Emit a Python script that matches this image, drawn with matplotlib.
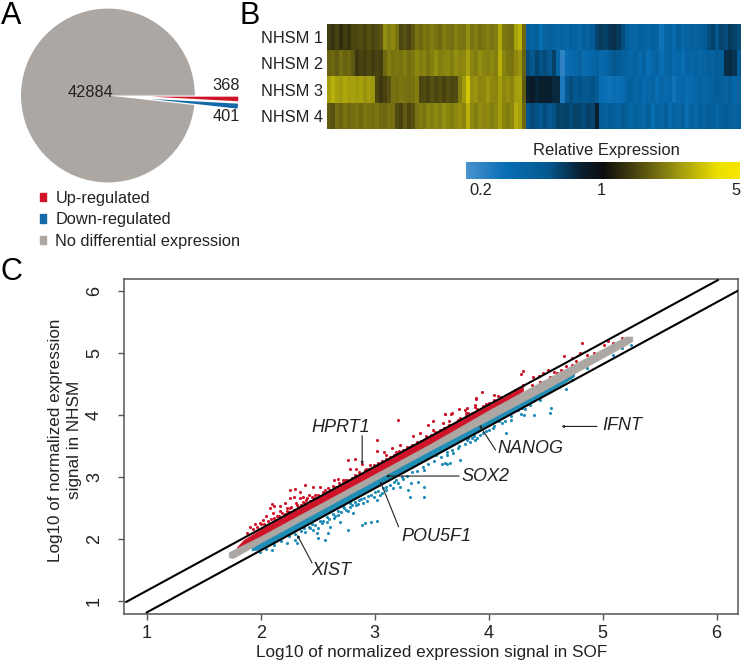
import numpy as np
import matplotlib
matplotlib.use('Agg')
import matplotlib.pyplot as plt
from matplotlib.colors import LinearSegmentedColormap
from matplotlib.patches import Patch

plt.rcParams['font.family'] = ['Liberation Sans', 'DejaVu Sans']

W, H = 741, 665
RED = '#cf1429'
BLUE = '#1569a8'
GRAY = '#aca7a3'
DOT_BLUE = '#1f8db5'
FRAME = '#555555'
TXT = '#222222'

# panel A
pie_counts = [368, 401, 42884]
pie_colors = [RED, BLUE, GRAY]
pie_explode = [0.5, 0.5, 0]
legend_labels = ['Up-regulated', 'Down-regulated', 'No differential expression']

# panel B, values on the colour bar scale (-1 light blue, 0 black, 1 yellow)
row_labels = ['NHSM 1', 'NHSM 2', 'NHSM 3', 'NHSM 4']
heat_up = [
    [.25,.2,.28,.18,.25,.2,.3,.3,.33,.28,.35,.3,.32,.36,.62,.55,.6,.5,.3,.35,.28,.38,.5,.45,.52,.48,.55,.5,.46,.55,.5,.48,.56,.52,.5,.62,.5,.55,.48,.52,.56,.5,.55,.75,.52,.5,.48,.72,.8,.45],
    [.42,.45,.4,.48,.42,.45,.38,.22,.28,.25,.3,.25,.28,.26,.45,.55,.5,.52,.5,.55,.48,.52,.6,.55,.58,.5,.56,.62,.55,.58,.6,.55,.62,.58,.6,.72,.58,.55,.62,.58,.56,.6,.55,.8,.58,.52,.5,.6,.65,.42],
    [.7,.8,.72,.68,.75,.7,.72,.68,.72,.65,.7,.66,.3,.22,.28,.35,.5,.48,.52,.5,.48,.5,.55,.3,.32,.28,.35,.3,.33,.28,.34,.3,.32,.55,.68,.9,.62,.65,.58,.6,.66,.6,.58,.7,.6,.62,.58,.7,.72,.4],
    [.4,.35,.48,.42,.5,.45,.48,.5,.45,.52,.5,.48,.52,.46,.45,.5,.48,.32,.28,.4,.3,.35,.5,.55,.5,.58,.55,.6,.55,.62,.58,.55,.6,.62,.58,.8,.6,.55,.62,.58,.6,.55,.6,.7,.58,.55,.6,.78,.72,.45],
]
heat_down = [
    [-.5,-.55,-.5,-.7,-.55,-.5,-.55,-.6,-.55,-.6,-.5,-.55,-.6,-.5,-.55,-.45,-.32,-.28,-.3,-.25,-.22,-.28,-.35,-.5,-.55,-.6,-.5,-.55,-.6,-.5,-.55,-.75,-.6,-.55,-.65,-.5,-.6,-.55,-.5,-.55,-.5,-.45,-.35,-.3,-.4,-.32,-.35,-.28,-.3,-.35],
    [-.35,-.4,-.32,-.38,-.35,-.4,-.3,-.6,-.88,-.7,-.65,-.6,-.55,-.7,-.65,-.6,-.55,-.65,-.6,-.5,-.4,-.45,-.5,-.55,-.6,-.55,-.65,-.55,-.7,-.6,-.55,-.7,-.6,-.55,-.65,-.6,-.7,-.55,-.6,-.55,-.6,-.55,-.5,-.55,-.45,-.5,-.22,-.2,-.25,-.45],
    [-.15,-.12,-.18,-.14,-.16,-.15,-.2,-.2,-.8,-.4,-.35,-.4,-.38,-.42,-.4,-.38,-.45,-.7,-.72,-.75,-.7,-.72,-.68,-.55,-.5,-.6,-.55,-.65,-.6,-.55,-.7,-.6,-.65,-.6,-.75,-.65,-.6,-.7,-.65,-.6,-.55,-.6,-.55,-.5,-.45,-.5,-.55,-.5,-.6,-.55],
    [-.4,-.35,-.38,-.4,-.35,-.4,-.38,-.3,-.32,-.3,-.35,-.3,-.32,-.35,-.3,-.32,-.15,-.45,-.5,-.45,-.5,-.55,-.45,-.5,-.6,-.5,-.55,-.6,-.5,-.7,-.55,-.6,-.5,-.65,-.55,-.6,-.5,-.7,-.55,-.6,-.5,-.55,-.45,-.5,-.6,-.5,-.45,-.5,-.55,-.5],
]
cbar_ticks = [-0.89, -0.015, 0.97]
cbar_labels = ['0.2', '1', '5']

# panel C, dense bands
red_x = [1.79, 1.85, 2.0, 2.5, 3.0, 3.5, 3.9, 4.1, 4.3]
red_top = [1.87, 1.99, 2.16, 2.665, 3.165, 3.665, 4.06, 4.26, 4.46]
red_bot = [1.84, 1.86, 2.03, 2.53, 3.03, 3.53, 3.95, 4.16, 4.39]
gray_x = [1.72, 1.76, 2.0, 2.5, 3.0, 3.5, 4.0, 4.5, 5.0, 5.2, 5.26]
gray_top = [1.79, 1.83, 2.05, 2.55, 3.05, 3.55, 4.08, 4.58, 5.07, 5.27, 5.27]
gray_bot = [1.71, 1.70, 1.95, 2.45, 2.95, 3.45, 3.93, 4.42, 4.93, 5.13, 5.2]
blue_x = [1.92, 2.0, 2.5, 3.0, 3.5, 4.0, 4.3, 4.6, 4.75]
blue_top = [1.87, 1.96, 2.46, 2.96, 3.46, 3.94, 4.24, 4.53, 4.68]
blue_bot = [1.82, 1.84, 2.335, 2.835, 3.335, 3.84, 4.14, 4.45, 4.63]

# panel C, single genes outside the bands
up_x = [2.10,2.12,2.08,2.17,2.21,2.26,2.30,2.345,2.39,2.42,2.46,2.52,2.37,2.345,2.29,2.26,2.23,2.17,2.11,2.05,2.02,1.99,1.95,1.91,2.40,2.48,2.55,2.59,2.64,2.68,2.72,2.77,2.83,2.78,2.84,2.89,3.02,3.20,3.02,3.08,3.15,3.22,3.31,3.34,3.40,3.47,3.51,3.60,3.62,3.675,3.73,3.79,3.82,3.89,3.88,3.51,3.43,3.28,3.19,3.10,2.96,2.915,2.67,2.72,2.58,2.49,2.315,2.26,
        4.82,4.66,4.80,4.73,4.86,4.92,4.28,4.30,4.39,4.44,4.52,4.48,4.57,4.63,4.45,4.30,4.23,4.05,4.08,3.94,3.89,3.81,3.74,3.67,3.62,3.65,3.80,3.88,3.98,4.13,4.19,4.27,4.38,4.54,4.68,4.77,3.92,3.75,3.69,3.84,4.10,4.16,4.35,4.60,4.73,5.01,5.05,5.09,5.17,
        1.88,1.93,1.97,2.00,2.03,2.06,2.09,2.12,2.14,2.16,2.19,2.21,2.23,2.25,2.27,2.29,2.31,2.33,2.35,2.37,2.39,2.41,2.43,2.45,2.47,2.50,2.53,2.56,2.58,2.61,2.63,2.66,2.69,2.71,2.74,2.76,2.80,2.83,2.86,2.88,2.92,2.95,2.99,3.03,3.06,3.10,3.13,3.17,3.21,3.25,3.29,3.33,3.37,3.41,3.45,3.49,3.53,3.57,3.61,3.65,3.70,3.75,3.80,3.85,3.90,3.95,4.00,4.05,4.11]
up_y = [2.57,2.54,2.50,2.53,2.58,2.80,2.81,2.77,2.88,2.71,2.84,2.85,2.69,2.66,2.69,2.66,2.50,2.45,2.42,2.37,2.31,2.27,2.24,2.20,2.63,2.71,2.77,2.82,2.96,2.98,2.96,3.28,3.29,3.14,3.14,3.21,3.60,3.93,3.43,3.41,3.47,3.52,3.49,3.66,3.71,3.84,3.90,3.87,4.02,4.03,3.92,4.09,4.03,4.27,4.17,3.76,3.60,3.49,3.41,3.36,3.20,3.12,2.85,2.90,2.71,2.63,2.55,2.50,
        5.17,4.96,5.00,4.81,4.97,5.00,4.66,4.71,4.62,4.64,4.73,4.68,4.70,4.73,4.54,4.49,4.41,4.32,4.31,4.38,4.28,4.12,4.10,4.02,4.02,3.91,4.03,4.13,4.19,4.27,4.33,4.44,4.49,4.62,4.79,4.87,4.06,3.90,3.82,3.95,4.22,4.25,4.41,4.68,4.92,5.13,5.19,5.16,5.25,
        2.10,2.17,2.20,2.24,2.25,2.30,2.33,2.34,2.38,2.37,2.42,2.41,2.46,2.44,2.52,2.48,2.58,2.52,2.56,2.60,2.58,2.66,2.62,2.68,2.66,2.72,2.70,2.80,2.76,2.80,2.86,2.84,2.90,2.88,2.96,2.96,2.99,3.03,3.08,3.06,3.14,3.13,3.20,3.23,3.27,3.29,3.32,3.36,3.42,3.44,3.48,3.52,3.57,3.59,3.66,3.68,3.73,3.76,3.79,3.84,3.88,3.95,3.99,4.04,4.10,4.15,4.20,4.24,4.30]
down_x = [2.33,2.39,2.43,2.46,2.505,2.535,2.58,2.59,2.56,2.505,2.49,2.68,2.695,2.77,2.81,2.84,2.90,2.915,2.97,3.02,2.89,2.77,2.61,2.64,2.72,2.78,2.86,2.93,2.99,3.05,3.10,3.16,3.22,3.295,3.32,3.38,3.43,3.43,3.31,3.59,3.63,3.75,3.43,3.54,3.63,3.73,3.81,3.88,2.23,2.30,2.315,2.10,1.99,3.06,3.02,3.19,3.25,
          4.15,4.55,4.54,4.40,4.31,4.28,4.20,4.14,4.04,4.00,3.95,4.68,4.36,4.29,4.26,3.87,3.90,4.73,4.86,4.09,4.45,4.38,4.54,4.64,3.82,3.66,3.62,3.84,3.69,5.09,5.25,5.17,
          2.05,2.12,2.18,2.25,2.30,2.35,2.38,2.42,2.45,2.48,2.52,2.55,2.58,2.60,2.63,2.65,2.68,2.70,2.73,2.75,2.78,2.80,2.83,2.85,2.88,2.91,2.94,2.97,3.00,3.03,3.07,3.10,3.13,3.17,3.20,3.24,3.28,3.33,3.37,3.42,3.47,3.52,3.58,3.63,3.68,3.74,3.79,3.85,3.92,3.98,4.05,4.12,4.20,4.32]
down_y = [2.04,2.12,2.18,2.15,2.18,2.26,2.28,2.10,1.99,2.02,2.10,2.39,2.28,2.45,2.42,2.55,2.58,2.26,2.28,2.30,2.23,2.15,2.20,2.34,2.53,2.58,2.63,2.61,2.69,2.71,2.85,2.82,2.85,2.80,2.90,2.93,2.85,2.68,2.69,3.22,3.22,3.28,3.11,3.36,3.36,3.47,3.60,3.60,1.94,1.99,1.94,1.83,1.80,2.74,2.63,2.96,2.98,
          3.72,4.11,4.03,4.00,4.00,4.02,3.92,3.91,3.79,3.76,3.71,4.42,4.17,4.11,4.09,3.66,3.63,4.57,4.76,3.90,4.25,4.27,4.44,4.54,3.63,3.23,3.23,3.57,3.39,4.97,5.13,5.08,
          1.84,1.90,1.97,2.05,2.09,2.13,2.18,2.20,2.24,2.23,2.30,2.29,2.36,2.33,2.40,2.37,2.45,2.44,2.50,2.47,2.52,2.55,2.60,2.57,2.65,2.66,2.70,2.72,2.76,2.78,2.82,2.80,2.88,2.92,2.90,3.00,3.02,3.08,3.10,3.17,3.22,3.27,3.33,3.40,3.44,3.51,3.54,3.63,3.68,3.74,3.83,3.88,3.99,4.10]

# fold-change limits
upper_x = [0.82, 6.01]
upper_y = [0.99, 6.18]
lower_x = [1.0, 6.187]
lower_y = [0.82, 6.01]

# gene, text x, text y, arrow tail x, tail y, head x, head y
gene_notes = [
    ('HPRT1', 2.70, 3.81, 2.89, 3.67, 2.89, 3.21),
    ('SOX2', 3.97, 3.02, 3.74, 3.02, 3.10, 3.02),
    ('POU5F1', 3.54, 2.04, 3.21, 2.20, 3.05, 2.93),
    ('XIST', 2.62, 1.49, 2.45, 1.62, 2.32, 2.07),
    ('NANOG', 4.37, 3.47, 4.06, 3.44, 3.92, 3.84),
    ('IFNT', 5.17, 3.84, 4.95, 3.82, 4.64, 3.82),
]


def px_axes(left, top, right, bottom):
    return fig.add_axes([left / W, 1 - bottom / H, (right - left) / W, (bottom - top) / H])


fig = plt.figure(figsize=(W / 100, H / 100), dpi=100)

# A
ax_pie = px_axes(21, 8, 247, 183)
ax_pie.pie(pie_counts, colors=pie_colors, explode=pie_explode, startangle=0,
           counterclock=False, radius=1)
ax_pie.set_xlim(-1.0, 1.6)
ax_pie.set_ylim(-1.006, 1.006)
ax_pie.text(-0.195, 0.04, '42884', fontsize=11.8, color=TXT, ha='center', va='center')
ax_pie.text(1.36, 0.11, '368', fontsize=11.8, color=TXT, ha='center', va='center')
ax_pie.text(1.36, -0.245, '401', fontsize=11.8, color=TXT, ha='center', va='center')

handles = [Patch(color=c) for c in pie_colors]
fig.legend(handles, legend_labels, loc='upper left', bbox_to_anchor=(39.5 / W, 1 - 191 / H),
           frameon=False, fontsize=11.8, labelcolor=TXT, handlelength=0.42, handleheight=0.42,
           handletextpad=0.55, labelspacing=0.39, borderpad=0, borderaxespad=0)

# B
cmap = LinearSegmentedColormap.from_list('expr', [
    (0.0, '#4a93cf'), (0.14, '#0a6fb5'), (0.3, '#04588f'), (0.42, '#0a2030'),
    (0.5, '#0d0d0d'), (0.62, '#4a4510'), (0.78, '#a09a10'), (0.92, '#ecdf00'), (1.0, '#f6e600')])
ax_heat = px_axes(327, 24, 740, 129)
# the two halves are not the same width in the figure
ax_heat.imshow(np.array(heat_up) * 0.82, cmap=cmap, vmin=-1, vmax=1, aspect='auto',
               interpolation='nearest', extent=[0, 198.7, 3.5, -0.5])
ax_heat.imshow(np.array(heat_down), cmap=cmap, vmin=-1, vmax=1, aspect='auto',
               interpolation='nearest', extent=[198.7, 413, 3.5, -0.5])
ax_heat.set_xlim(0, 413)
ax_heat.set_ylim(3.5, -0.5)
ax_heat.set_xticks([])
ax_heat.set_yticks(range(4), row_labels, fontsize=11.8, color=TXT)
ax_heat.tick_params(axis='y', length=0, pad=3)
for s in ax_heat.spines.values():
    s.set_visible(False)

ax_bar = px_axes(466, 162, 740, 179)
ax_bar.imshow(np.linspace(-1, 1, 256)[None, :], cmap=cmap, vmin=-1, vmax=1, aspect='auto',
              extent=[-1, 1, 0, 1])
ax_bar.set_yticks([])
ax_bar.set_xticks(cbar_ticks, cbar_labels, fontsize=11.8, color=TXT)
ax_bar.tick_params(axis='x', length=0, pad=3)
ax_bar.text(0.027, 1.68, 'Relative Expression', fontsize=11.9, color=TXT, ha='center', va='center',
            transform=ax_bar.get_xaxis_transform())
for s in ax_bar.spines.values():
    s.set_visible(False)

# C
ax = px_axes(123.7, 279, 738, 614)
ax.fill_between(red_x, red_bot, red_top, color=RED, lw=0.5, zorder=2)
ax.fill_between(blue_x, blue_bot, blue_top, color=DOT_BLUE, lw=0.5, zorder=2)
ax.scatter(up_x, up_y, s=5, color=RED, lw=0, zorder=2)
ax.scatter(down_x, down_y, s=5, color=DOT_BLUE, lw=0, zorder=2)
ax.fill_between(gray_x, gray_bot, gray_top, color=GRAY, lw=0.5, zorder=3)
ax.plot(upper_x, upper_y, color='black', lw=1.5, zorder=4)
ax.plot(lower_x, lower_y, color='black', lw=1.5, zorder=4)

for name, tx, ty, x0, y0, x1, y1 in gene_notes:
    ax.text(tx, ty, name, fontsize=13, style='italic', color=TXT, ha='center', va='center', zorder=6)
    ax.annotate('', xy=(x1, y1), xytext=(x0, y0), zorder=5,
                arrowprops=dict(arrowstyle='-|>,head_length=0.12,head_width=0.07', color='#222222',
                                lw=0.8, shrinkA=0, shrinkB=0))

ax.set_xlim(0.798, 6.187)
ax.set_ylim(0.795, 6.198)
ax.set_xticks(range(1, 7))
ax.set_yticks(range(1, 7))
ax.tick_params(axis='both', length=4, width=1, color=FRAME, labelsize=13, labelcolor=TXT)
ax.tick_params(axis='x', pad=4)
ax.tick_params(axis='y', pad=11)
plt.setp(ax.get_yticklabels(), rotation=90, va='center')
for s in ax.spines.values():
    s.set_color(FRAME)
    s.set_linewidth(1.1)

fig.text(432 / W, 1 - 652 / H, 'Log10 of normalized expression signal in SOF', fontsize=12.3,
         color=TXT, ha='center', va='center')
fig.text(65 / W, 1 - 440 / H, 'Log10 of normalized expression\nsignal in NHSM', fontsize=12.3,
         color=TXT, ha='center', va='center', rotation=90, linespacing=1.35)

fig.text(1 / W, 1 - 24 / H, 'A', fontsize=22, color='black', va='baseline')
fig.text(240 / W, 1 - 24 / H, 'B', fontsize=22, color='black', va='baseline')
fig.text(1 / W, 1 - 280 / H, 'C', fontsize=22, color='black', va='baseline')

fig.savefig('out.png', dpi=100)
